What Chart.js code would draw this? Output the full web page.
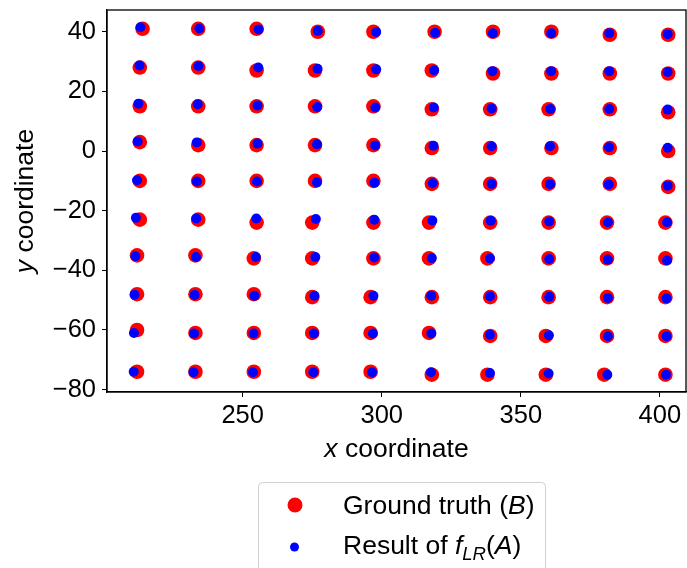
<!DOCTYPE html>
<html>
<head>
<meta charset="utf-8">
<script src="https://cdn.jsdelivr.net/npm/chart.js@4/dist/chart.umd.min.js"></script>
<style>
html, body { margin: 0; padding: 0; background: #fff; }
</style>
</head>
<body>
<canvas id="grafico" width="687" height="568"></canvas>
<script>
// ground truth (B), row by row from top to bottom
const truthX = [
    214, 234, 255, 277, 297, 319, 340, 361, 382, 403,
    213, 234, 255, 276, 297, 318, 340, 361, 382, 403,
    213, 234, 255, 276, 297, 318, 339, 360, 382, 403,
    213, 234, 255, 276, 297, 318, 339, 361, 382, 403,
    213, 234, 255, 276, 297, 318, 339, 360, 382, 403,
    213, 234, 255, 275, 297, 317, 339, 360, 381, 402,
    212, 233, 254, 275, 297, 317, 338, 360, 381, 402,
    212, 233, 254, 275, 296, 318, 339, 360, 381, 402,
    212, 233, 254, 275, 296, 317, 339, 359, 381, 402,
    212, 233, 254, 275, 296, 318, 338, 359, 380, 402
];
const truthY = [
    41, 41, 41, 40, 40, 40, 40, 40, 39, 39,
    28, 28, 27, 27, 27, 27, 26, 26, 26, 26,
    15, 15, 15, 15, 15, 14, 14, 14, 14, 13,
    3, 2, 2, 2, 2, 1, 1, 1, 1, 0,
    -10, -10, -10, -10, -10, -11, -11, -11, -11, -12,
    -23, -23, -24, -24, -24, -24, -24, -24, -24, -24,
    -35, -35, -36, -36, -36, -36, -36, -36, -36, -36,
    -48, -48, -48, -49, -49, -49, -49, -49, -49, -49,
    -60, -61, -61, -61, -61, -61, -62, -62, -62, -62,
    -74, -74, -74, -74, -74, -75, -75, -75, -75, -75
];
// result of f_LR(A)
const resultX = [
    213.2, 234.4, 255.7, 277.0, 298.0, 319.2, 339.9, 360.9, 381.8, 402.8,
    212.9, 234.1, 255.6, 276.9, 298.0, 318.8, 339.8, 360.9, 381.8, 402.8,
    212.5, 233.8, 255.3, 276.8, 297.7, 318.7, 339.5, 360.6, 381.8, 402.8,
    212.2, 233.5, 255.3, 276.7, 297.6, 318.6, 339.5, 360.5, 381.7, 402.8,
    212.0, 233.5, 255.1, 276.7, 297.4, 318.3, 339.5, 360.5, 381.6, 402.8,
    211.6, 233.3, 254.9, 276.3, 297.3, 318.2, 339.2, 360.2, 381.3, 402.6,
    211.4, 233.2, 254.7, 276.1, 297.3, 318.0, 338.9, 360.2, 381.3, 402.6,
    211.1, 232.7, 254.2, 275.8, 297.0, 317.8, 338.9, 360.2, 381.3, 402.4,
    210.9, 232.5, 253.9, 275.6, 296.8, 317.8, 338.9, 360.1, 381.3, 402.4,
    210.8, 232.3, 253.7, 275.4, 296.5, 317.7, 338.9, 360.0, 381.1, 402.2
];
const resultY = [
    41.5, 41.1, 40.8, 40.3, 39.9, 39.7, 39.5, 39.5, 39.5, 39.2,
    28.7, 28.5, 28.0, 27.6, 27.4, 27.1, 26.8, 26.8, 26.8, 26.5,
    15.9, 15.7, 15.3, 14.8, 14.6, 14.6, 14.3, 14.1, 14.1, 13.9,
    3.2, 2.9, 2.5, 2.3, 1.9, 1.8, 1.6, 1.6, 1.3, 1.1,
    -9.8, -10.2, -10.2, -10.5, -10.6, -10.8, -11.0, -11.1, -11.2, -11.6,
    -22.4, -22.6, -22.6, -22.8, -23.0, -23.3, -23.4, -23.6, -23.9, -23.9,
    -35.3, -35.5, -35.5, -35.5, -35.7, -35.9, -36.0, -36.2, -36.4, -36.7,
    -48.2, -48.3, -48.5, -48.5, -48.5, -48.5, -48.7, -48.9, -49.3, -49.4,
    -61.0, -61.2, -61.2, -61.2, -61.2, -61.2, -61.6, -61.8, -62.1, -62.1,
    -74.0, -74.2, -74.2, -74.2, -74.2, -74.2, -74.4, -74.6, -75.0, -75.0
];
const xTicks = [250, 300, 350, 400];
const yTicks = [-80, -60, -40, -20, 0, 20, 40];

const fonte = "'Liberation Sans', Arial, sans-serif";
const tamTick = 25.5;
const tamTitulo = 26.5;
const vermelho = '#ff0000';
const azul = '#0000ff';

function pontos(xs, ys) {
    return xs.map((x, i) => ({ x: x, y: ys[i] }));
}

// draws a line made of pieces with different styles (italic, subscript)
function textoRico(ctx, partes, x, y, tam) {
    ctx.textBaseline = 'alphabetic';
    ctx.textAlign = 'left';
    partes.forEach(p => {
        var t = p.sub ? tam * 0.7 : tam;
        ctx.font = (p.it ? 'italic ' : '') + t + 'px ' + fonte;
        ctx.fillText(p.t, x, y + (p.sub ? tam * 0.22 : 0));
        x += ctx.measureText(p.t).width;
    });
}

function larguraRica(ctx, partes, tam) {
    var w = 0;
    partes.forEach(p => {
        var t = p.sub ? tam * 0.7 : tam;
        ctx.font = (p.it ? 'italic ' : '') + t + 'px ' + fonte;
        w += ctx.measureText(p.t).width;
    });
    return w;
}

// no extra room for the first / last tick labels
function semPadding(s) {
    s.paddingLeft = 0;
    s.paddingRight = 0;
    s.paddingTop = 0;
    s.paddingBottom = 0;
}

const extras = {
    id: 'extras',
    afterDraw(chart) {
        var ctx = chart.ctx;
        var a = chart.chartArea;
        ctx.save();

        // frame
        ctx.strokeStyle = '#000';
        ctx.lineWidth = 1.3;
        ctx.strokeRect(a.left, a.top, a.right - a.left, a.bottom - a.top);

        ctx.fillStyle = '#000';
        // x title
        var tituloX = [{ t: 'x', it: true }, { t: ' coordinate' }];
        var wx = larguraRica(ctx, tituloX, tamTitulo);
        textoRico(ctx, tituloX, (a.left + a.right) / 2 - wx / 2, 457, tamTitulo);

        // y title
        var tituloY = [{ t: 'y', it: true }, { t: ' coordinate' }];
        var wy = larguraRica(ctx, tituloY, tamTitulo);
        ctx.save();
        ctx.translate(33, (a.top + a.bottom) / 2);
        ctx.rotate(-Math.PI / 2);
        textoRico(ctx, tituloY, -wy / 2, 0, tamTitulo);
        ctx.restore();

        // legend
        var lx = 258, ly = 482, lw = 287, lh = 100;
        ctx.beginPath();
        ctx.roundRect(lx + 0.5, ly + 0.5, lw, lh, 4);
        ctx.fillStyle = 'rgba(255,255,255,0.8)';
        ctx.fill();
        ctx.strokeStyle = '#d0d0d0';
        ctx.lineWidth = 1;
        ctx.stroke();

        ctx.fillStyle = vermelho;
        ctx.beginPath();
        ctx.arc(295, 505, 7.5, 0, Math.PI * 2);
        ctx.fill();
        ctx.fillStyle = azul;
        ctx.beginPath();
        ctx.arc(294.5, 547, 4.5, 0, Math.PI * 2);
        ctx.fill();

        ctx.fillStyle = '#000';
        textoRico(ctx, [{ t: 'Ground truth (' }, { t: 'B', it: true }, { t: ')' }], 343, 514, tamTitulo);
        textoRico(ctx, [{ t: 'Result of ' }, { t: 'f', it: true }, { t: 'LR', it: true, sub: true }, { t: '(' }, { t: 'A', it: true }, { t: ')' }], 343, 554, tamTitulo);

        ctx.restore();
    }
};

var ctx = document.getElementById('grafico').getContext('2d');
window.grafico = new Chart(ctx, {
    type: 'scatter',
    data: {
        datasets: [{
            label: 'Ground truth (B)',
            data: pontos(truthX, truthY),
            backgroundColor: vermelho,
            borderWidth: 0,
            pointRadius: 7.3,
            pointHoverRadius: 7.3,
            order: 2
        }, {
            label: 'Result of f_LR(A)',
            data: pontos(resultX, resultY),
            backgroundColor: azul,
            borderWidth: 0,
            pointRadius: 5,
            pointHoverRadius: 5,
            order: 1
        }]
    },
    options: {
        responsive: false,
        animation: false,
        devicePixelRatio: 1,
        layout: {
            autoPadding: false,
            padding: { left: 0, right: 1, top: 10, bottom: 126 }
        },
        plugins: {
            legend: { display: false },
            tooltip: { enabled: false }
        },
        scales: {
            x: {
                type: 'linear',
                min: 201.2,
                max: 409.4,
                afterBuildTicks: (s) => { s.ticks = xTicks.map(v => ({ value: v })); },
                afterFit: (s) => { s.height = 50; semPadding(s); },
                ticks: {
                    color: '#000',
                    font: { family: fonte, size: tamTick },
                    padding: 4,
                    maxRotation: 0
                },
                grid: { drawOnChartArea: false, tickLength: 5, color: '#000', lineWidth: 1 },
                border: { color: '#000', width: 1.3 }
            },
            y: {
                type: 'linear',
                min: -80.8,
                max: 47.3,
                afterBuildTicks: (s) => { s.ticks = yTicks.map(v => ({ value: v })); },
                afterFit: (s) => { s.width = 107; semPadding(s); },
                ticks: {
                    color: '#000',
                    font: { family: fonte, size: tamTick },
                    padding: 6,
                    callback: (v) => String(v).replace('-', '\u2212')
                },
                grid: { drawOnChartArea: false, tickLength: 5, color: '#000', lineWidth: 1 },
                border: { color: '#000', width: 1.3 }
            }
        }
    },
    plugins: [extras]
});
</script>
</body>
</html>
